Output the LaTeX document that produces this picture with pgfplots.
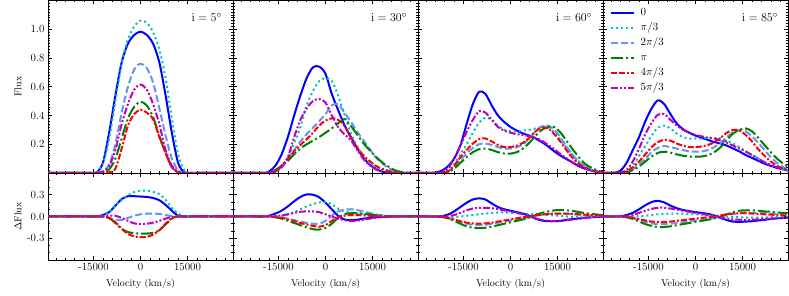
\documentclass[border=0pt]{standalone}
\usepackage{pgfplots}
\pgfplotsset{compat=1.18}
\usepackage{pgfplotstable}

\definecolor{cB}{HTML}{0000FF}
\definecolor{cC}{HTML}{00BFBF}
\definecolor{cL}{HTML}{6495ED}
\definecolor{cG}{HTML}{008000}
\definecolor{cR}{HTML}{FF0000}
\definecolor{cM}{HTML}{BF00BF}

% columns: v, flux (f0..f5) and Delta flux (d0..d5) for phases 0, pi/3, 2pi/3, pi, 4pi/3, 5pi/3
\pgfplotstableread{
v f0 f1 f2 f3 f4 f5 d0 d1 d2 d3 d4 d5
-30000 0 0 0 0 0 0 0 0 0 0 0 0
-24000 0 0 0 0 0 0 0 0 0 0 0 0
-18000 0 0 0 0 0 0 0 0 0 0 0 0
-16000 0 0 0 0 0 0 0 0 0 0 0 0
-14000 0.005 0.005 0 0 0 0 0 0 0 0 0 0
-12000 0.07 0.06 0.01 0.003 0 0.01 0.02 0.01 0 0 0 0
-10000 0.28 0.24 0.06 0.025 0.005 0.05 0.06 0.06 -0.02 -0.02 -0.02 0.01
-8000 0.54 0.50 0.20 0.10 0.03 0.16 0.15 0.15 -0.045 -0.09 -0.08 0.01
-6000 0.77 0.76 0.42 0.24 0.17 0.34 0.24 0.23 -0.05 -0.17 -0.17 -0.02
-4000 0.90 0.93 0.60 0.38 0.33 0.48 0.28 0.29 -0.02 -0.215 -0.24 -0.06
-2000 0.96 1.02 0.72 0.46 0.41 0.58 0.28 0.335 0.01 -0.23 -0.275 -0.095
0 0.983 1.06 0.76 0.495 0.44 0.615 0.275 0.355 0.03 -0.235 -0.285 -0.105
2000 0.96 1.045 0.73 0.47 0.42 0.58 0.27 0.355 0.04 -0.235 -0.28 -0.10
4000 0.90 0.98 0.63 0.39 0.375 0.48 0.255 0.34 0.04 -0.225 -0.25 -0.085
6000 0.77 0.86 0.45 0.26 0.25 0.34 0.225 0.31 0.035 -0.19 -0.19 -0.06
8000 0.54 0.66 0.26 0.14 0.14 0.16 0.16 0.23 0.02 -0.11 -0.10 -0.03
10000 0.28 0.38 0.10 0.04 0.04 0.05 0.08 0.12 0.005 -0.03 -0.025 -0.005
12000 0.07 0.13 0.02 0.005 0.005 0.01 0.01 0.04 0 0 0 0
14000 0.005 0.02 0 0 0 0 0 0.005 0 0 0 0
16000 0 0 0 0 0 0 0 0 0 0 0 0
18000 0 0 0 0 0 0 0 0 0 0 0 0
24000 0 0 0 0 0 0 0 0 0 0 0 0
30000 0 0 0 0 0 0 0 0 0 0 0 0
}\tabA

\pgfplotstableread{
v f0 f1 f2 f3 f4 f5 d0 d1 d2 d3 d4 d5
-30000 0 0 0 0 0 0 0 0 0 0 0 0
-26000 0 0 0 0 0 0 0 0 0 0 0 0
-22000 0 0 0 0 0 0 0 0 0 0 0 0
-20000 0 0 0 0 0 0 0 0 0 0 0 0
-18000 0.01 0 0.005 0 0 0 0.01 0 0 0 0 0
-16000 0.05 0.01 0.02 0.02 0.01 0.01 0.04 0 0 -0.01 -0.01 0.005
-14000 0.13 0.04 0.05 0.05 0.05 0.04 0.08 0.01 -0.01 -0.03 -0.02 0.015
-12000 0.25 0.11 0.10 0.085 0.10 0.11 0.14 0.03 -0.03 -0.06 -0.04 0.03
-10000 0.40 0.21 0.16 0.13 0.15 0.25 0.21 0.06 -0.05 -0.09 -0.065 0.05
-8000 0.54 0.32 0.22 0.17 0.195 0.37 0.27 0.10 -0.07 -0.12 -0.09 0.065
-6000 0.66 0.47 0.27 0.20 0.235 0.45 0.305 0.14 -0.09 -0.15 -0.11 0.07
-4000 0.735 0.57 0.315 0.225 0.28 0.50 0.30 0.17 -0.10 -0.175 -0.13 0.07
-2000 0.74 0.64 0.36 0.25 0.33 0.515 0.265 0.195 -0.10 -0.18 -0.14 0.06
0 0.69 0.66 0.41 0.28 0.365 0.49 0.19 0.20 -0.06 -0.16 -0.12 0.03
2000 0.55 0.64 0.47 0.31 0.38 0.40 0.10 0.17 0.01 -0.10 -0.06 0.0
4000 0.44 0.54 0.48 0.345 0.37 0.32 0.01 0.11 0.07 -0.02 -0.01 -0.03
6000 0.335 0.41 0.42 0.375 0.33 0.27 -0.04 0.07 0.095 0.03 0.01 -0.05
8000 0.255 0.28 0.36 0.33 0.25 0.23 -0.05 0.055 0.10 0.045 0.02 -0.06
10000 0.175 0.19 0.29 0.27 0.18 0.165 -0.045 0.045 0.09 0.045 0.02 -0.06
12000 0.11 0.12 0.23 0.21 0.125 0.10 -0.03 0.035 0.07 0.04 0.015 -0.045
14000 0.06 0.07 0.17 0.16 0.085 0.055 -0.02 0.025 0.05 0.03 0.01 -0.03
16000 0.03 0.04 0.11 0.115 0.05 0.025 -0.01 0.015 0.03 0.02 0.005 -0.02
18000 0.01 0.02 0.07 0.075 0.03 0.01 -0.005 0.008 0.015 0.01 0 -0.01
20000 0.002 0.008 0.035 0.045 0.015 0.003 0 0.003 0.005 0.005 0 -0.005
22000 0 0.002 0.015 0.02 0.005 0 0 0 0 0 0 0
24000 0 0 0.005 0.008 0 0 0 0 0 0 0 0
26000 0 0 0 0 0 0 0 0 0 0 0 0
30000 0 0 0 0 0 0 0 0 0 0 0 0
}\tabB

\pgfplotstableread{
v f0 f1 f2 f3 f4 f5 d0 d1 d2 d3 d4 d5
-30000 0 0 0 0 0 0 0 0 0 0 0 0
-28000 0 0 0 0 0 0 0 0 0 0 0 0
-26000 0 0 0 0 0 0 0 0 0 0 0 0
-24000 0.003 0 0 0 0 0 0 0 0 0 0 0
-22000 0.015 0 0 0 0 0.005 0.005 0 -0.005 -0.005 -0.005 0
-20000 0.045 0.02 0.01 0.005 0.01 0.03 0.025 0 -0.02 -0.025 -0.02 0.005
-18000 0.10 0.06 0.04 0.03 0.05 0.10 0.07 -0.005 -0.045 -0.06 -0.04 0.02
-16000 0.19 0.13 0.09 0.07 0.11 0.19 0.13 0 -0.075 -0.10 -0.065 0.05
-14000 0.34 0.20 0.135 0.11 0.16 0.285 0.19 0.01 -0.10 -0.135 -0.085 0.085
-12000 0.48 0.28 0.175 0.145 0.205 0.37 0.235 0.02 -0.115 -0.155 -0.095 0.11
-10000 0.565 0.35 0.20 0.165 0.235 0.43 0.25 0.03 -0.12 -0.16 -0.10 0.12
-8000 0.55 0.385 0.205 0.17 0.24 0.42 0.235 0.04 -0.115 -0.155 -0.095 0.12
-6000 0.47 0.37 0.195 0.16 0.22 0.37 0.18 0.05 -0.10 -0.14 -0.085 0.115
-4000 0.40 0.33 0.18 0.145 0.195 0.32 0.13 0.055 -0.085 -0.12 -0.07 0.10
-2000 0.355 0.30 0.17 0.135 0.18 0.295 0.10 0.055 -0.07 -0.10 -0.055 0.085
0 0.32 0.29 0.17 0.135 0.18 0.28 0.08 0.05 -0.055 -0.08 -0.04 0.07
2000 0.295 0.29 0.18 0.145 0.19 0.27 0.06 0.045 -0.04 -0.06 -0.025 0.05
4000 0.275 0.295 0.20 0.17 0.21 0.265 0.04 0.04 -0.025 -0.04 -0.01 0.03
6000 0.26 0.30 0.24 0.21 0.245 0.255 0.01 0.035 -0.01 -0.015 0.0 0.005
8000 0.24 0.31 0.29 0.26 0.29 0.245 -0.03 0.03 0.01 0.02 0.015 -0.025
10000 0.215 0.32 0.325 0.30 0.315 0.225 -0.055 0.025 0.025 0.05 0.025 -0.05
12000 0.185 0.32 0.33 0.32 0.31 0.195 -0.065 0.02 0.035 0.07 0.035 -0.06
14000 0.15 0.28 0.30 0.32 0.27 0.165 -0.065 0.015 0.04 0.085 0.04 -0.065
16000 0.12 0.23 0.245 0.28 0.215 0.13 -0.06 0.01 0.04 0.09 0.04 -0.06
18000 0.095 0.17 0.18 0.22 0.155 0.10 -0.045 0.0 0.035 0.085 0.04 -0.05
20000 0.07 0.12 0.12 0.16 0.10 0.07 -0.035 -0.005 0.03 0.075 0.035 -0.04
22000 0.045 0.075 0.075 0.105 0.06 0.045 -0.025 -0.01 0.025 0.06 0.03 -0.03
24000 0.03 0.045 0.04 0.06 0.035 0.028 -0.015 -0.01 0.02 0.045 0.025 -0.02
26000 0.015 0.02 0.02 0.035 0.018 0.015 -0.01 -0.005 0.015 0.035 0.02 -0.01
28000 0.008 0.008 0.008 0.015 0.008 0.007 -0.005 0 0.01 0.025 0.015 -0.005
30000 0.003 0.003 0.002 0.005 0.002 0.002 0 0 0.005 0.015 0.01 0
}\tabC

\pgfplotstableread{
v f0 f1 f2 f3 f4 f5 d0 d1 d2 d3 d4 d5
-30000 0 0 0 0 0 0 0 0 0 0 0 0
-28000 0 0 0 0 0 0 0 0 0 0 0 0
-26000 0.002 0 0 0 0 0 0 0 0 0 0 0
-24000 0.015 0 0 0 0 0.005 0.003 0 0 0 0 0
-22000 0.07 0.01 0.005 0.005 0.01 0.02 0.02 0 -0.01 -0.01 -0.005 0.005
-20000 0.16 0.05 0.025 0.02 0.04 0.08 0.05 0 -0.025 -0.035 -0.015 0.02
-18000 0.25 0.12 0.06 0.045 0.08 0.17 0.10 0.005 -0.05 -0.07 -0.035 0.05
-16000 0.36 0.19 0.10 0.08 0.13 0.27 0.155 0.01 -0.075 -0.105 -0.055 0.08
-14000 0.45 0.26 0.145 0.115 0.18 0.35 0.20 0.02 -0.095 -0.13 -0.07 0.105
-12000 0.505 0.315 0.175 0.14 0.215 0.405 0.215 0.03 -0.105 -0.145 -0.075 0.12
-10000 0.48 0.33 0.188 0.148 0.23 0.41 0.195 0.035 -0.105 -0.145 -0.075 0.12
-8000 0.41 0.31 0.18 0.142 0.225 0.37 0.15 0.04 -0.10 -0.135 -0.07 0.11
-6000 0.345 0.275 0.17 0.13 0.205 0.33 0.115 0.04 -0.09 -0.12 -0.06 0.095
-4000 0.305 0.25 0.16 0.12 0.19 0.30 0.09 0.04 -0.08 -0.105 -0.05 0.08
-2000 0.28 0.24 0.15 0.115 0.18 0.28 0.075 0.035 -0.065 -0.09 -0.04 0.065
0 0.26 0.24 0.148 0.113 0.18 0.265 0.06 0.03 -0.055 -0.075 -0.03 0.05
2000 0.245 0.24 0.15 0.115 0.185 0.255 0.05 0.025 -0.045 -0.06 -0.02 0.035
4000 0.23 0.245 0.16 0.125 0.195 0.245 0.035 0.02 -0.035 -0.045 -0.01 0.02
6000 0.215 0.245 0.18 0.145 0.215 0.24 0.015 0.015 -0.02 -0.025 0.0 0.0
8000 0.205 0.24 0.21 0.18 0.245 0.225 -0.02 0.005 0.0 0.0 0.015 -0.015
10000 0.19 0.225 0.25 0.23 0.28 0.21 -0.05 0.0 0.02 0.03 0.03 -0.03
12000 0.17 0.205 0.285 0.275 0.30 0.19 -0.07 -0.005 0.035 0.06 0.04 -0.04
14000 0.15 0.18 0.30 0.30 0.295 0.17 -0.075 -0.01 0.045 0.08 0.045 -0.045
16000 0.125 0.15 0.29 0.31 0.265 0.15 -0.07 -0.015 0.05 0.085 0.045 -0.045
18000 0.105 0.125 0.255 0.29 0.22 0.125 -0.065 -0.015 0.05 0.085 0.04 -0.045
20000 0.085 0.10 0.21 0.245 0.165 0.10 -0.055 -0.015 0.05 0.08 0.035 -0.04
22000 0.065 0.075 0.16 0.195 0.12 0.075 -0.045 -0.015 0.045 0.07 0.03 -0.035
24000 0.05 0.055 0.11 0.145 0.08 0.055 -0.035 -0.01 0.04 0.065 0.025 -0.03
26000 0.035 0.04 0.07 0.10 0.05 0.04 -0.025 -0.01 0.035 0.055 0.02 -0.025
28000 0.025 0.025 0.04 0.065 0.03 0.025 -0.02 -0.005 0.03 0.05 0.015 -0.02
30000 0.015 0.015 0.02 0.035 0.015 0.015 -0.015 -0.005 0.025 0.045 0.01 -0.015
}\tabD

\pgfplotsset{
  sA/.style={cB, solid, line width=2pt, smooth},
  sB/.style={cC, line width=2pt, dash pattern=on 2pt off 3pt, smooth},
  sC/.style={cL, line width=2pt, dash pattern=on 7pt off 3pt, smooth},
  sD/.style={cG, line width=2pt, dash pattern=on 12pt off 3pt on 2pt off 3pt, smooth},
  sE/.style={cR, line width=2pt, dash pattern=on 6pt off 2pt on 6pt off 2pt on 2pt off 2pt, smooth},
  sF/.style={cM, line width=2pt, dash pattern=on 7pt off 2pt on 2pt off 2pt on 2pt off 2pt, smooth},
  base/.style={
    scale only axis, width=185pt, anchor=north west,
    xmin=-29500, xmax=29500,
    scaled x ticks=false, scaled y ticks=false,
    xtick={-15000,0,15000},
    minor xtick={-27000,-24000,-21000,-18000,-12000,-9000,-6000,-3000,3000,6000,9000,12000,18000,21000,24000,27000},
    tick align=inside, tick pos=both,
    major tick length=4pt, minor tick length=2pt,
    every tick/.style={black, line width=0.5pt},
    axis line style={line width=0.8pt},
    ticklabel style={font=\fontsize{11}{13}\selectfont},
    label style={font=\fontsize{13}{15}\selectfont},
    every axis y label/.style={at={([xshift=-30pt]axis description cs:0,0.5)}, rotate=90, anchor=center},
    every axis x label/.style={at={([yshift=-24pt]axis description cs:0.5,0)}, anchor=center},
  },
  toprow/.style={base, height=172.5pt, ymin=0, ymax=1.2,
    ytick={0.2,0.4,0.6,0.8,1.0}, minor ytick={0,0.02,...,1.2}, xticklabels={}},
  botrow/.style={base, height=87pt, ymin=-0.6, ymax=0.6,
    ytick={-0.3,0,0.3}, minor ytick={-0.6,-0.5,...,0.6},
    xticklabels={-15000,0,15000}, xlabel={Velocity (km/s)}},
}

\newcommand{\fluxplots}[1]{%
  \addplot[sA] table[x=v,y=f0]{#1};
  \addplot[sB] table[x=v,y=f1]{#1};
  \addplot[sC] table[x=v,y=f2]{#1};
  \addplot[sD] table[x=v,y=f3]{#1};
  \addplot[sE] table[x=v,y=f4]{#1};
  \addplot[sF] table[x=v,y=f5]{#1};
}
\newcommand{\deltaplots}[1]{%
  \addplot[sA] table[x=v,y=d0]{#1};
  \addplot[sB] table[x=v,y=d1]{#1};
  \addplot[sC] table[x=v,y=d2]{#1};
  \addplot[sD] table[x=v,y=d3]{#1};
  \addplot[sE] table[x=v,y=d4]{#1};
  \addplot[sF] table[x=v,y=d5]{#1};
}
\newcommand{\ilabel}[2]{\node[anchor=west, inner sep=0pt, font=\fontsize{12.5}{14}\selectfont] at (rel axis cs:#1,0.9) {#2};}

\begin{document}
\begin{tikzpicture}[x=1pt,y=1pt]
% top row
\begin{axis}[toprow, at={(48pt,295.5pt)}, ylabel={Flux}, yticklabels={0.2,0.4,0.6,0.8,1.0}]
\fluxplots{\tabA}
\ilabel{0.775}{$\mathrm{i}=5^{\circ}$}
\end{axis}
\begin{axis}[toprow, at={(233pt,295.5pt)}, yticklabels={}]
\fluxplots{\tabB}
\ilabel{0.745}{$\mathrm{i}=30^{\circ}$}
\end{axis}
\begin{axis}[toprow, at={(418pt,295.5pt)}, yticklabels={}]
\fluxplots{\tabC}
\ilabel{0.745}{$\mathrm{i}=60^{\circ}$}
\end{axis}
\begin{axis}[toprow, at={(603pt,295.5pt)}, yticklabels={},
  legend cell align=left,
  legend image code/.code={\draw[#1] (0pt,0pt) -- (23pt,0pt);},
  legend style={draw=none, fill=none, at={(axis description cs:0.035,0.965)}, anchor=north west,
    inner sep=0pt, row sep=2pt, column sep=5pt,
    font=\fontsize{11}{13}\selectfont,
    nodes={inner sep=1pt, text height=8pt, text depth=3pt}}]
\fluxplots{\tabD}
\legend{$0$,$\pi/3$,$2\pi/3$,$\pi$,$4\pi/3$,$5\pi/3$}
\ilabel{0.75}{$\mathrm{i}=85^{\circ}$}
\end{axis}
% bottom row
\begin{axis}[botrow, at={(48pt,123pt)}, ylabel={$\Delta$Flux}, yticklabels={-0.3,0.0,0.3}]
\deltaplots{\tabA}
\end{axis}
\begin{axis}[botrow, at={(233pt,123pt)}, yticklabels={}]
\deltaplots{\tabB}
\end{axis}
\begin{axis}[botrow, at={(418pt,123pt)}, yticklabels={}]
\deltaplots{\tabC}
\end{axis}
\begin{axis}[botrow, at={(603pt,123pt)}, yticklabels={}]
\deltaplots{\tabD}
\end{axis}
\pgfresetboundingbox
\path (0pt,0pt) rectangle (789pt,296pt);
\end{tikzpicture}
\end{document}
